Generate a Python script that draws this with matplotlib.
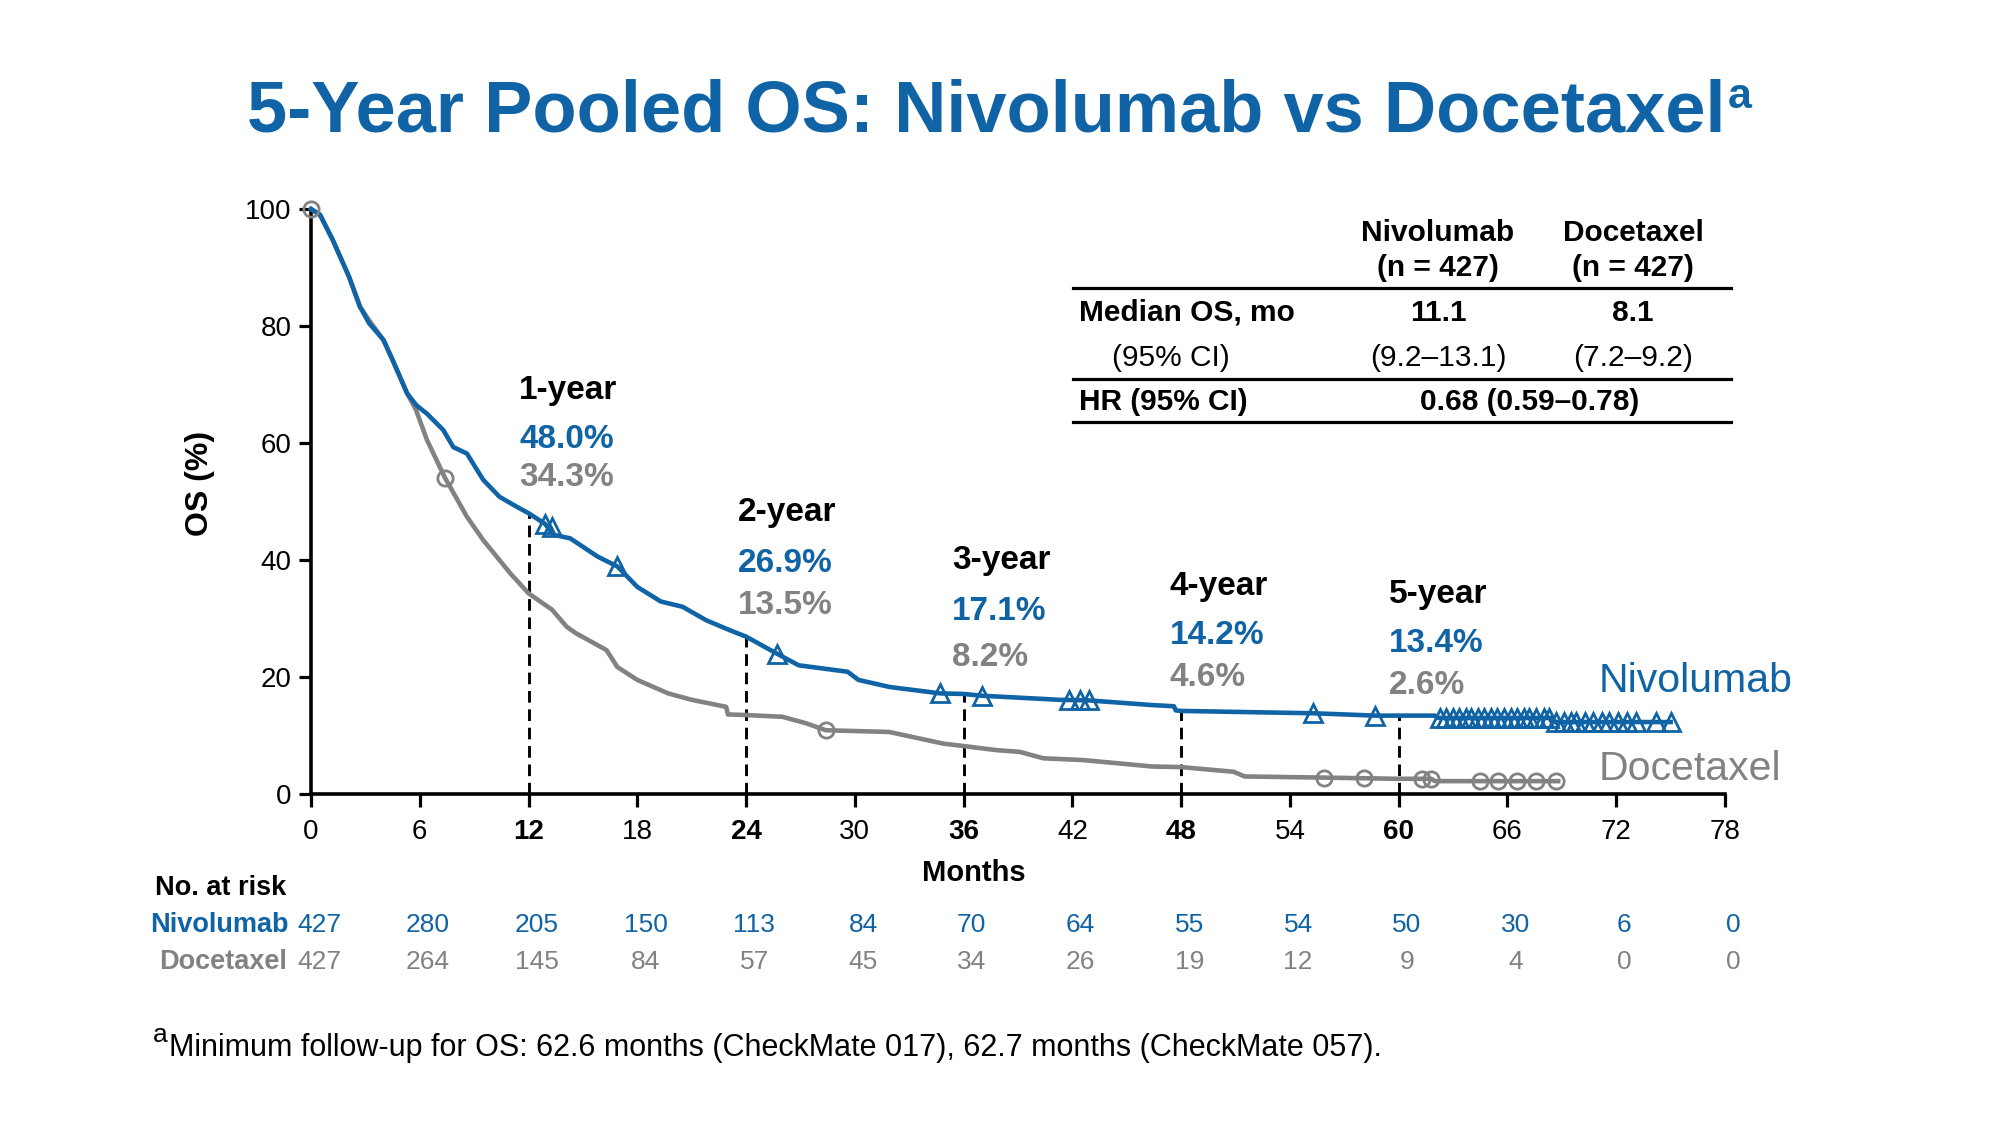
import matplotlib
matplotlib.use('Agg')
import matplotlib.pyplot as plt
from matplotlib.lines import Line2D
from matplotlib import transforms
import numpy as np

plt.rcParams['font.family'] = ['Liberation Sans', 'DejaVu Sans']

BLUE = '#1063A5'
GRAY = '#828282'

# ---------------- data ----------------
nivo_t = [0, 0.5, 1.2, 2.1, 2.7, 3.2, 4.0, 4.5, 5.3, 5.8, 6.4, 7.3, 7.85, 8.6, 9.5,
          10.4, 11.35, 12.0, 12.9, 13.4, 14.3, 15.8, 16.9, 18.0, 19.3, 20.5, 21.8,
          23.1, 24.0, 25.7, 26.9, 29.6, 30.2, 31.9, 34.7, 36.0, 37.0, 41.3, 42.9,
          46.4, 47.6, 47.7, 48.0, 55.3, 58.7, 60.0, 62.0, 62.2, 68.5, 68.6, 75.0]
nivo_s = [100, 99, 94.7, 88.4, 83.3, 80.5, 77.6, 74.2, 68.5, 66.5, 65.0, 62.2, 59.3,
          58.2, 53.7, 50.8, 49.1, 48.0, 46.2, 44.3, 43.7, 40.6, 38.9, 35.4, 32.9,
          32.0, 29.7, 28.0, 26.9, 24.0, 22.0, 20.9, 19.5, 18.3, 17.2, 17.1, 16.8,
          16.1, 16.0, 15.2, 15.0, 14.3, 14.2, 13.8, 13.4, 13.4, 13.4, 13.0, 13.0,
          12.3, 12.3]

doce_t = [0, 0.5, 1.2, 2.1, 2.7, 3.2, 4.0, 4.5, 5.3, 5.8, 6.4, 7.4, 8.6, 9.5, 11.0,
          12.0, 13.3, 14.1, 14.6, 16.3, 16.9, 18.0, 19.7, 21.0, 22.9, 23.0, 24.0,
          26.0, 27.3, 28.4, 31.9, 34.9, 36.0, 37.8, 39.1, 40.4, 42.6, 46.4, 48.0,
          50.9, 51.5, 55.9, 60.0, 61.8, 62.0, 68.8]
doce_s = [100, 99, 94.7, 88.4, 83.3, 81.0, 77.6, 74.2, 68.5, 65.6, 60.5, 54.0, 47.4,
          43.4, 37.7, 34.3, 31.5, 28.6, 27.5, 24.6, 21.7, 19.5, 17.2, 16.1, 14.9,
          13.6, 13.5, 13.2, 12.1, 10.9, 10.6, 8.6, 8.2, 7.5, 7.2, 6.1, 5.8, 4.7,
          4.6, 3.8, 3.0, 2.8, 2.6, 2.6, 2.2, 2.2]

nivo_cens_t = [12.9, 13.3, 16.9, 25.7, 34.7, 37.0, 41.8, 42.4, 42.9, 55.3, 58.7,
               62.3, 62.6, 63.0, 63.3, 63.7, 64.0, 64.4, 64.7, 65.1, 65.4, 65.8,
               66.2, 66.5, 66.9, 67.2, 67.6, 68.0, 68.3, 68.7, 69.1, 69.5, 69.8,
               70.3, 70.7, 71.2, 71.6, 72.1, 72.6, 73.1, 74.2, 75.0]
nivo_cens_s = [46.2, 45.6, 38.9, 24.0, 17.2, 16.8, 16.0, 16.0, 16.0, 13.8, 13.4,
               13.0, 13.0, 13.0, 13.0, 13.0, 13.0, 13.0, 13.0, 13.0, 13.0, 13.0,
               13.0, 13.0, 13.0, 13.0, 13.0, 13.0, 13.0, 12.3, 12.3, 12.3, 12.3,
               12.3, 12.3, 12.3, 12.3, 12.3, 12.3, 12.3, 12.3, 12.3]

doce_cens_t = [0, 7.4, 28.4, 55.9, 58.1, 61.3, 61.8, 64.5, 65.5, 66.5, 67.6, 68.7]
doce_cens_s = [100, 54.0, 10.9, 2.8, 2.7, 2.6, 2.6, 2.2, 2.2, 2.2, 2.2, 2.2]

landmarks = [12, 24, 36, 48, 60]
landmark_labels = ['1-year', '2-year', '3-year', '4-year', '5-year']
nivo_landmark = [48.0, 26.9, 17.1, 14.2, 13.4]
doce_landmark = [34.3, 13.5, 8.2, 4.6, 2.6]

risk_times = [0, 6, 12, 18, 24, 30, 36, 42, 48, 54, 60, 66, 72, 78]
nivo_risk = [427, 280, 205, 150, 113, 84, 70, 64, 55, 54, 50, 30, 6, 0]
doce_risk = [427, 264, 145, 84, 57, 45, 34, 26, 19, 12, 9, 4, 0, 0]

x_ticks = [0, 6, 12, 18, 24, 30, 36, 42, 48, 54, 60, 66, 72, 78]
y_ticks = [0, 20, 40, 60, 80, 100]

# ---------------- figure ----------------
W, H = 2000, 1125
fig = plt.figure(figsize=(20, 11.25), dpi=100)
fig.patch.set_facecolor('white')


def fx(x):
    return x / W


def fy(y):
    return 1 - y / H


ax = fig.add_axes([fx(311), fy(794), (1725 - 311) / W, (794 - 209) / H])
ax.set_xlim(0, 78)
ax.set_ylim(0, 100)
for s in ['top', 'right']:
    ax.spines[s].set_visible(False)
for s in ['left', 'bottom']:
    ax.spines[s].set_linewidth(2.6)
    ax.spines[s].set_color('black')
ax.set_xticks(x_ticks)
ax.set_yticks(y_ticks)
ax.tick_params(axis='both', direction='out', length=9, width=2.3, colors='black',
               labelsize=20)
ax.tick_params(axis='x', pad=9)
ax.tick_params(axis='y', pad=5)
for lbl, t in zip(ax.get_xticklabels(), x_ticks):
    if t in landmarks:
        lbl.set_fontweight('bold')

# dashed landmark lines
ax.vlines(landmarks, 0, nivo_landmark, colors='black', linestyles=(0, (4, 2.3)),
          linewidth=2.1, zorder=2)

# curves
ax.plot(nivo_t, nivo_s, color=BLUE, lw=3.3, zorder=4, clip_on=False)
ax.plot(doce_t, doce_s, color=GRAY, lw=3.3, zorder=3, clip_on=False)
ax.plot(nivo_cens_t, nivo_cens_s, linestyle='none', marker='^', markersize=13,
        markerfacecolor='none', markeredgecolor=BLUE, markeredgewidth=2.0,
        zorder=5, clip_on=False)
ax.plot(doce_cens_t, doce_cens_s, linestyle='none', marker='o', markersize=11,
        markerfacecolor='none', markeredgecolor=GRAY, markeredgewidth=2.0,
        zorder=5, clip_on=False)

# landmark annotations (positions in pixels of the layout)
ann_x = [519, 738, 952, 1170, 1389]
ann_y = [[390, 439, 478], [513, 563, 606], [561, 611, 657], [587, 635, 677],
         [595, 644, 686]]
for i in range(5):
    yy = ann_y[i]
    fig.text(fx(ann_x[i]), fy(yy[0]), landmark_labels[i], fontsize=24,
             fontweight='bold', color='black', ha='left', va='center')
    fig.text(fx(ann_x[i]), fy(yy[1]), f'{nivo_landmark[i]:.1f}%', fontsize=24,
             fontweight='bold', color=BLUE, ha='left', va='center')
    fig.text(fx(ann_x[i]), fy(yy[2]), f'{doce_landmark[i]:.1f}%', fontsize=24,
             fontweight='bold', color=GRAY, ha='left', va='center')

# curve labels
fig.text(fx(1599), fy(681), 'Nivolumab', fontsize=29.5, color=BLUE,
         ha='left', va='center')
fig.text(fx(1599), fy(769), 'Docetaxel', fontsize=29.5, color=GRAY,
         ha='left', va='center')

# axis labels
fig.text(fx(200), fy(483), 'OS (%)', fontsize=23, fontweight='bold',
         rotation=90, ha='center', va='center')
fig.text(fx(974), fy(873), 'Months', fontsize=21, fontweight='bold',
         ha='center', va='center')

# title
title = fig.text(fx(247), fy(131), '5-Year Pooled OS: Nivolumab vs Docetaxel',
                 fontsize=52, fontweight='bold', color=BLUE, ha='left',
                 va='baseline')
fig.canvas.draw()
renderer = fig.canvas.get_renderer()
bb = title.get_window_extent(renderer)
fig.text(bb.x1 / W + 0.001, fy(108), 'a', fontsize=31, fontweight='bold',
         color=BLUE, ha='left', va='baseline')

# summary table
tbl_l, tbl_r = 1073, 1731
c1, c2 = 1438, 1633
fs_t = 21.5
fig.text(fx(c1), fy(233), 'Nivolumab', fontsize=fs_t, fontweight='bold',
         ha='center', va='center')
fig.text(fx(c1), fy(268), '(n = 427)', fontsize=fs_t, fontweight='bold',
         ha='center', va='center')
fig.text(fx(c2), fy(233), 'Docetaxel', fontsize=fs_t, fontweight='bold',
         ha='center', va='center')
fig.text(fx(c2), fy(268), '(n = 427)', fontsize=fs_t, fontweight='bold',
         ha='center', va='center')
fig.text(fx(1079), fy(313), 'Median OS, mo', fontsize=fs_t, fontweight='bold',
         ha='left', va='center')
fig.text(fx(c1), fy(313), '11.1', fontsize=fs_t, fontweight='bold',
         ha='center', va='center')
fig.text(fx(c2), fy(313), '8.1', fontsize=fs_t, fontweight='bold',
         ha='center', va='center')
fig.text(fx(1171), fy(358), '(95% CI)', fontsize=fs_t, ha='center', va='center')
fig.text(fx(c1), fy(358), '(9.2\u201313.1)', fontsize=fs_t, ha='center',
         va='center')
fig.text(fx(c2), fy(358), '(7.2\u20139.2)', fontsize=fs_t, ha='center',
         va='center')
fig.text(fx(1079), fy(402), 'HR (95% CI)', fontsize=fs_t, fontweight='bold',
         ha='left', va='center')
fig.text(fx(1530), fy(402), '0.68 (0.59\u20130.78)', fontsize=fs_t,
         fontweight='bold', ha='center', va='center')
for yl in [288, 379, 422]:
    fig.add_artist(Line2D([fx(tbl_l), fx(tbl_r)], [fy(yl), fy(yl)],
                          transform=fig.transFigure, color='black', lw=2.3))

# number at risk
trans = transforms.blended_transform_factory(ax.transData, fig.transFigure)
fig.text(fx(155), fy(888), 'No. at risk', fontsize=19.5, fontweight='bold',
         ha='left', va='center')
fig.text(fx(289), fy(925), 'Nivolumab', fontsize=19.5, fontweight='bold',
         color=BLUE, ha='right', va='center')
fig.text(fx(287), fy(962), 'Docetaxel', fontsize=19.5, fontweight='bold',
         color=GRAY, ha='right', va='center')
for t, n1, n2 in zip(risk_times, nivo_risk, doce_risk):
    ax.text(t + 0.45, fy(925), str(n1), transform=trans, fontsize=19,
            color=BLUE, ha='center', va='center')
    ax.text(t + 0.45, fy(962), str(n2), transform=trans, fontsize=19,
            color=GRAY, ha='center', va='center')

# footnote
fa = fig.text(fx(153), fy(1042), 'a', fontsize=19, ha='left', va='baseline')
fig.canvas.draw()
bba = fa.get_window_extent(fig.canvas.get_renderer())
fig.text(bba.x1 / W + 0.0005, fy(1056),
         'Minimum follow-up for OS: 62.6 months (CheckMate 017), '
         '62.7 months (CheckMate 057).',
         fontsize=22, ha='left', va='baseline')

fig.savefig('out.png', dpi=100, facecolor='white')
